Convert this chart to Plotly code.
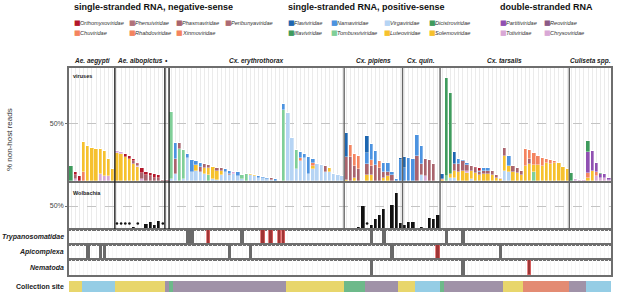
import plotly.graph_objects as go

# ---------------- data ----------------
N = 130
samples = list(range(N))

group_names = ["Ae. aegypti", "Ae. albopictus", "•", "Cx. erythrothorax", "Cx. pipiens",
               "Cx. quin.", "Cx. tarsalis", "Culiseta spp."]
group_starts = [0, 11, 23, 24, 66, 80, 89, 120]

# virus read share (% non-host reads) per sample, sparse {sample: value}
chuviridae = {3: 8}
chrysoviridae = {7: 6, 8: 4, 9: 4, 126: 4, 127: 3, 128: 3}
virgaviridae = {24: 2, 25: 6, 27: 2, 28: 20, 29: 8, 30: 9, 31: 8, 32: 6, 34: 2, 35: 1, 36: 5, 37: 8,
                38: 5, 39: 6, 40: 4, 41: 2, 43: 5, 44: 4, 45: 3, 46: 3, 47: 2, 48: 1, 52: 59, 53: 37,
                54: 10, 55: 17, 56: 20, 57: 6, 58: 10, 59: 15, 60: 14, 61: 8, 62: 8, 63: 6, 64: 5,
                65: 4, 84: 5, 91: 3, 92: 3, 96: 2, 104: 9, 105: 8}
tombusviviridae = {24: 58, 26: 28, 27: 25, 33: 5, 41: 3, 42: 6, 51: 62, 54: 17, 90: 4, 111: 8}
luteoviridae = {3: 26, 4: 30, 5: 29, 6: 28, 7: 22, 8: 22, 9: 15, 10: 10, 11: 24, 12: 23, 13: 21,
                14: 19, 15: 15, 16: 12, 30: 5, 32: 5, 33: 6, 34: 10, 35: 8, 36: 4, 43: 1, 44: 1,
                58: 3, 62: 3, 66: 1, 68: 3, 71: 5, 72: 5, 75: 3, 76: 4, 89: 1, 91: 3, 92: 6, 93: 8,
                94: 9, 95: 7, 96: 7, 97: 7, 98: 5, 99: 6, 100: 6, 101: 5, 102: 3, 103: 1.5,
                104: 13, 105: 5, 106: 8, 107: 7, 108: 5, 109: 13, 110: 15, 111: 6, 112: 14,
                113: 13, 114: 16, 115: 14.5, 116: 15.5, 117: 15.5, 118: 12.5, 119: 10.5,
                124: 3, 125: 9}
totiviridae = {1: 2, 11: 2, 12: 2, 16: 1, 17: 2, 39: 2, 85: 4, 95: 2, 103: 1, 121: 1.5,
               122: 1, 123: 1, 129: 1}
phasmaviridae = {1: 3, 15: 2, 16: 2, 17: 5, 18: 5, 19: 4, 20: 3, 21: 3, 22: 1, 23: 1, 25: 13,
                 26: 5, 31: 4, 32: 4, 33: 3, 35: 2, 36: 2, 38: 1, 48: 2, 61: 5, 66: 20, 67: 21,
                 68: 10, 69: 10, 71: 10, 72: 8, 73: 14, 74: 11, 75: 5, 76: 4, 77: 5, 83: 22,
                 84: 10, 85: 15, 86: 18, 87: 15, 92: 6, 93: 7, 94: 8, 95: 5, 96: 4, 97: 4,
                 98: 3, 99: 3, 100: 3, 101: 4, 102: 2, 104: 7, 106: 5, 107: 4, 108: 4, 110: 4}
rhabdoviridae = {55: 3, 58: 3, 67: 10, 68: 10, 69: 12, 72: 5, 74: 6, 89: 1, 109: 15, 110: 8,
                 111: 10, 112: 8, 113: 7, 114: 3.5, 115: 4, 116: 2, 124: 4, 126: 4}
partitiviridae = {124: 18, 125: 17, 126: 8, 127: 3, 128: 3, 129: 2}
namaviridae = {25: 14, 28: 3, 29: 10, 30: 3, 31: 4, 37: 2, 38: 3, 40: 4, 45: 1, 46: 0.5, 47: 1,
               49: 2, 51: 5, 55: 5, 56: 3, 57: 15, 58: 3, 71: 9, 72: 14, 73: 12, 75: 8, 76: 8,
               77: 3, 78: 1.5, 79: 18, 80: 11, 81: 20, 82: 19, 83: 18, 84: 15, 93: 4, 94: 1,
               95: 2, 98: 1, 99: 2, 100: 2, 105: 9}
flaviviridae = {66: 21, 71: 15, 79: 2, 80: 10, 89: 4, 92: 10}
orthomyxoviridae = {1: 3, 2: 4, 13: 2, 14: 3, 15: 2, 16: 1, 17: 4, 18: 3, 19: 3, 20: 3, 21: 2,
                    97: 1, 98: 2}
iflaviviridae = {0: 13, 90: 85, 91: 70, 120: 7, 124: 10, 127: 1}

# Wolbachia share
wolbachia = {15: 5, 17: 3, 18: 10, 19: 16, 20: 9, 21: 18, 67: 3, 68: 3, 69: 5, 70: 50, 72: 9,
             73: 21, 74: 30, 75: 43, 77: 52, 78: 78, 79: 12, 80: 9, 81: 16, 82: 16, 84: 5,
             85: 3, 86: 23, 87: 22, 88: 30}
wolbachia_trace_samples = [11, 12, 13, 14, 16, 22, 71]
wolbachia_trace_level = 12

# eukaryotic detections (grey = detected, red = high)
tryp_detected = [28, 29, 41, 72, 75, 90, 94]
tryp_high = [33, 46, 48, 50, 51]
api_detected = [4, 7, 8, 38, 43, 77, 103]
api_high = [88]
nema_detected = [72, 94]
nema_high = [110]

# collection site (run-length by sample order)
site_runs = [("A", 3), ("B", 8), ("A", 12), ("C", 1), ("D", 1), ("C", 27), ("A", 14), ("D", 5),
             ("C", 8), ("A", 4), ("B", 6), ("D", 1), ("C", 14), ("A", 5), ("E", 11), ("C", 4),
             ("B", 6)]
site_colors = {"A": "#e8d66c", "B": "#95cde5", "C": "#a092a8", "D": "#6db98a", "E": "#e38b73"}

# stack order bottom -> top: (name, data, color)
stack = [
    ("Chuviridae", chuviridae, "#f4845f"),
    ("Chrysoviridae", chrysoviridae, "#d9a8d6"),
    ("Virgaviridae", virgaviridae, "#b6d4f4"),
    ("Tombusviviridae", tombusviviridae, "#80cf98"),
    ("Luteoviridae", luteoviridae, "#f6c12e"),
    ("Totiviridae", totiviridae, "#d9a8d6"),
    ("Phasmaviridae", phasmaviridae, "#a9646d"),
    ("Rhabdoviridae", rhabdoviridae, "#f4845f"),
    ("Partitiviridae", partitiviridae, "#9050b2"),
    ("Namaviridae", namaviridae, "#4c93e0"),
    ("Flaviviridae", flaviviridae, "#1d66b0"),
    ("Orthomyxoviridae", orthomyxoviridae, "#b3172a"),
    ("Iflaviviridae", iflaviviridae, "#3f9b5d"),
]

legend_groups = [
    ("single-stranded RNA, negative-sense", 73,
     [[("Orthomyxoviridae", "#b3172a"), ("Phenuiviridae", "#b0727a"), ("Phasmaviridae", "#a9646d"),
       ("Peribunyaviridae", "#ad6a73")],
      [("Chuviridae", "#f4845f"), ("Rhabdoviridae", "#f4845f"), ("Xinmoviridae", "#f4845f")]],
     [73, 128, 175, 224]),
    ("single-stranded RNA, positive-sense", 287,
     [[("Flaviviridae", "#1d66b0"), ("Namaviridae", "#4c93e0"), ("Virgaviridae", "#b6d4f4"),
       ("Dicistroviridae", "#3f9b5d")],
      [("Iflaviviridae", "#3f9b5d"), ("Tombusviviridae", "#80cf98"), ("Luteoviridae", "#f6c12e"),
       ("Solemoviridae", "#f6c12e")]],
     [287, 330, 383, 428]),
    ("double-stranded RNA", 499,
     [[("Partitiviridae", "#9050b2"), ("Reoviridae", "#8c5a86")],
      [("Totiviridae", "#d9a8d6"), ("Chrysoviridae", "#d9a8d6")]],
     [499, 543]),
]

# ---------------- layout helpers ----------------
W, H = 617, 299
L, R = 69, 6


def px(xp):
    return (xp - L) / (W - L - R)


def py(yp):
    return 1 - yp / H


def dom(top, bot):
    return [1 - bot / H, 1 - top / H]


FONT = "Liberation Sans, Arial, sans-serif"
fig = go.Figure()

BW = 0.8
for name, d, col in stack:
    fig.add_trace(go.Bar(x=samples, y=[d.get(i, 0) for i in samples], name=name, width=BW,
                         marker=dict(color=col, line=dict(color="white", width=0.35)),
                         xaxis="x", yaxis="y", showlegend=False))

fig.add_trace(go.Bar(x=samples, y=[wolbachia.get(i, 0) for i in samples], width=BW,
                     marker=dict(color="#111111", line=dict(color="white", width=0.3)),
                     xaxis="x2", yaxis="y2", showlegend=False))
fig.add_trace(go.Scatter(x=wolbachia_trace_samples, y=[wolbachia_trace_level] * len(wolbachia_trace_samples),
                         mode="markers", marker=dict(color="#111111", size=2.6),
                         xaxis="x2", yaxis="y2", showlegend=False))

for k, (det, high) in enumerate([(tryp_detected, tryp_high), (api_detected, api_high),
                                  (nema_detected, nema_high)]):
    ax = str(k + 3)
    fig.add_trace(go.Bar(x=det, y=[1] * len(det), width=0.85,
                         marker=dict(color="#6a6a6a", line=dict(width=0)),
                         xaxis="x" + ax, yaxis="y" + ax, showlegend=False))
    fig.add_trace(go.Bar(x=high, y=[1] * len(high), width=0.85,
                         marker=dict(color="#9e3535", line=dict(color="#e06666", width=0.8)),
                         xaxis="x" + ax, yaxis="y" + ax, showlegend=False))

site_per_sample = []
for s, n in site_runs:
    site_per_sample += [s] * n
for s, col in site_colors.items():
    xs = [i for i in samples if site_per_sample[i] == s]
    fig.add_trace(go.Bar(x=xs, y=[1] * len(xs), width=1.0, marker=dict(color=col, line=dict(width=0)),
                         xaxis="x6", yaxis="y6", showlegend=False))

domains = {1: dom(68, 181), 2: dom(183, 229), 3: dom(230, 244), 4: dom(245, 259),
           5: dom(260, 275), 6: dom(281, 292)}
yranges = {1: [0, 98], 2: [0, 100], 3: [0, 1], 4: [0, 1], 5: [0, 1], 6: [0, 1]}

layout = dict(width=W, height=H, margin=dict(l=L, r=R, t=0, b=0, autoexpand=False),
              barmode="stack", bargap=0,
              plot_bgcolor="white", paper_bgcolor="white", font=dict(family=FONT, color="#222"))
for i in range(1, 7):
    xa = dict(domain=[0, 1], range=[-0.5, N - 0.5], anchor="y" + (str(i) if i > 1 else ""),
              showticklabels=False, ticks="", zeroline=False, automargin=False,
              showgrid=(i <= 5), tickmode="linear", tick0=0, dtick=1,
              gridcolor="#ebebeb" if i <= 2 else "#f6f6f6", gridwidth=0.8 if i <= 2 else 0.5,
              showline=(i <= 5), linecolor="#6e6e6e", linewidth=1.6, mirror=True)
    if i > 1:
        xa["matches"] = "x"
    ya = dict(domain=domains[i], range=yranges[i], anchor="x" + (str(i) if i > 1 else ""),
              zeroline=False, showline=(i <= 5), linecolor="#6e6e6e", linewidth=1.6, mirror=True,
              fixedrange=True, automargin=False)
    if i <= 2:
        ya.update(tickmode="array", tickvals=[50], ticktext=["50%"], showgrid=True,
                  gridcolor="#c4c4c4", griddash="dash", gridwidth=1, ticks="outside", ticklen=2,
                  tickcolor="#6e6e6e", tickfont=dict(size=7, color="#444", family=FONT))
    else:
        ya.update(showticklabels=False, showgrid=False, ticks="")
    layout["xaxis" + (str(i) if i > 1 else "")] = xa
    layout["yaxis" + (str(i) if i > 1 else "")] = ya
fig.update_layout(**layout)

# group separators and species labels
shapes = []
annotations = []
sep_top = py(68)
sep_bot = py(229)
for gi, st in enumerate(group_starts):
    if st > 0:
        col = "#222" if st <= 24 else "#666"
        shapes.append(dict(type="line", xref="x", yref="paper", x0=st - 0.5, x1=st - 0.5,
                           y0=sep_bot, y1=sep_top, line=dict(color=col, width=1.4), layer="above"))
    end = group_starts[gi + 1] if gi + 1 < len(group_starts) else N
    annotations.append(dict(xref="x", yref="paper", x=(st + end - 1) / 2, y=py(61),
                            text="<b><i>%s</i></b>" % group_names[gi], showarrow=False,
                            font=dict(size=6.5, color="#222"), xanchor="center", yanchor="middle"))

# legend
for title, tx, rows, cols in legend_groups:
    annotations.append(dict(xref="paper", yref="paper", x=px(tx - 1), y=py(7.5), text="<b>%s</b>" % title,
                            showarrow=False, xanchor="left", yanchor="middle",
                            font=dict(size=9, color="#111")))
    for r, row in enumerate(rows):
        yy = py(23 + r * 10.3)
        for c, (nm, col) in enumerate(row):
            annotations.append(dict(xref="paper", yref="paper", x=px(cols[c] - 1.5), y=yy, text="■",
                                    showarrow=False, xanchor="left", yanchor="middle",
                                    font=dict(size=7, color=col, family="DejaVu Sans")))
            annotations.append(dict(xref="paper", yref="paper", x=px(cols[c] + 4.5), y=yy,
                                    text="<i>%s</i>" % nm, showarrow=False, xanchor="left",
                                    yanchor="middle", font=dict(size=5.6, color="#333")))

# panel labels
annotations.append(dict(xref="paper", yref="paper", x=px(71), y=py(76), text="<b>viruses</b>",
                        showarrow=False, xanchor="left", yanchor="middle", font=dict(size=5.5)))
annotations.append(dict(xref="paper", yref="paper", x=px(71), y=py(193), text="<b>Wolbachia</b>",
                        showarrow=False, xanchor="left", yanchor="middle", font=dict(size=5.5)))
annotations.append(dict(xref="paper", yref="paper", x=px(9), y=py(140), text="% non-host reads",
                        textangle=-90, showarrow=False, xanchor="center", yanchor="middle",
                        font=dict(size=8, color="#333")))
for txt, yy, it in [("Trypanosomatidae", 237, True), ("Apicomplexa", 252, True),
                    ("Nematoda", 267.5, True), ("Collection site", 286.5, False)]:
    t = "<b><i>%s</i></b>" % txt if it else "<b>%s</b>" % txt
    annotations.append(dict(xref="paper", yref="paper", x=px(66), y=py(yy), text=t, showarrow=False,
                            xanchor="right", yanchor="middle", font=dict(size=7, color="#222")))

fig.update_layout(shapes=shapes, annotations=annotations)
fig.write_html("out.html", config={"displayModeBar": False},
               post_script="document.body.style.margin='0';document.body.style.overflow='hidden';")
